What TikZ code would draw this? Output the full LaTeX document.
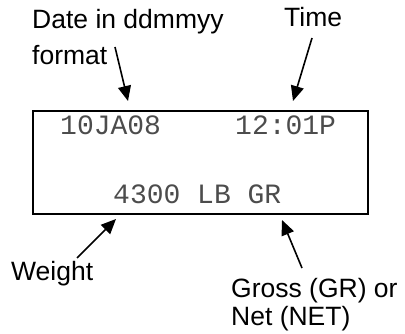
\documentclass[tikz,border=0pt]{standalone}
\usepackage{fontspec}
\setmainfont{Liberation Sans}
\newfontfamily\monofont{Liberation Mono}
\usetikzlibrary{arrows.meta}
\begin{document}
\begin{tikzpicture}[x=1pt,y=-1pt,
  lbl/.style={anchor=base west,inner sep=0pt,font=\fontsize{26.5}{30}\selectfont},
  disp/.style={anchor=base west,inner sep=0pt,font=\monofont\fontsize{28}{30}\selectfont,text=black!70},
  pointer/.style={line width=1.6pt,-{Triangle[length=15pt,width=13pt]}}]
\useasboundingbox (0,0) rectangle (405,334);
\node[draw,line width=1.8pt,minimum width=335pt,minimum height=103pt,inner sep=0pt,anchor=north west] (box) at (32,110) {};
\node[disp] (date) at (60,135) {10JA08};
\node[disp] (time) at (235,135) {12:01P};
\node[disp] (wt) at (113,204) {4300 LB GR};
\node[lbl] (l1) at (32,29) {Date in ddmmyy};
\node[lbl] (l2) at (32,65) {format};
\node[lbl] (lt) at (284,27) {Time};
\node[lbl] (lw) at (11,281) {Weight};
\node[lbl] (lg1) at (231,298) {Gross (GR) or};
\node[lbl] (lg2) at (231,326) {Net (NET)};
\coordinate (ds) at (115,47);
\coordinate (dt) at (128,101);
\coordinate (ts) at (312,38);
\coordinate (tt) at (293,101);
\coordinate (ws) at (77,258);
\coordinate (wtp) at (116,219);
\coordinate (gs) at (302,268);
\coordinate (gt) at (282,220);
\draw[pointer] (ds) -- (dt);
\draw[pointer] (ts) -- (tt);
\draw[pointer] (ws) -- (wtp);
\draw[pointer] (gs) -- (gt);
\end{tikzpicture}
\end{document}
